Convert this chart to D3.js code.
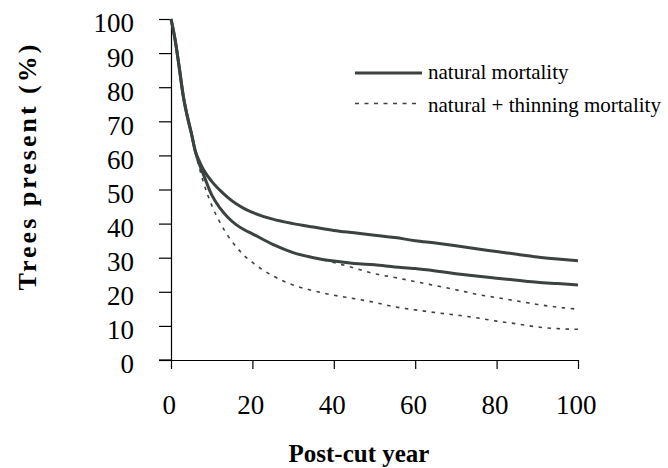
<!DOCTYPE html>
<html>
<head>
<meta charset="utf-8">
<script src="https://cdn.jsdelivr.net/npm/d3@7"></script>
<style>
  html, body { margin: 0; padding: 0; background: #fff; }
  svg { display: block; }
  text { font-family: "Liberation Serif", "Times New Roman", serif; fill: #000; }
</style>
</head>
<body>
<svg id="chart" width="668" height="468"></svg>
<script>
// ---- data ----
const years = [0,1,2,3,4,5,6,7,8,10,12,14,16,18,20,25,30,35,40,45,50,55,60,65,70,75,80,85,90,95,100];
const naturalA  = [100,94,86,77.5,71.5,66.5,61.2,58.2,55.8,52.4,49.8,47.6,45.8,44.4,43.3,41.3,40.0,39.0,38.0,37.3,36.6,35.9,35.0,34.3,33.5,32.6,31.8,31.0,30.2,29.6,29.1];
const naturalB  = [100,94,86,77.5,71.5,66.5,61,57.3,54.3,48.4,44.6,41.8,39.7,38.2,37.0,33.9,31.5,30.0,29.0,28.3,27.9,27.3,26.8,26.1,25.3,24.6,24.0,23.4,22.8,22.4,22.0];
const thinningB = [100,94,86,77.5,71.5,66.5,61,57.3,54.3,48.4,44.6,41.8,39.7,38.2,37.0,33.9,31.5,30.0,28.6,27.0,25.3,24.2,23.0,21.8,20.6,19.3,18.3,17.3,16.3,15.5,14.9];
const thinningA = [100,94,86,77.5,71.5,66.5,60.8,56.2,52.0,45.4,40.4,36.4,33.2,30.6,28.6,24.7,22.0,20.3,19.0,18.0,16.9,15.6,14.7,13.9,13.2,12.4,11.4,10.6,9.7,9.2,9.0];
const xTicks = [0,20,40,60,80,100];
const yTicks = [0,10,20,30,40,50,60,70,80,90,100];
const legendLabels = ["natural mortality", "natural + thinning mortality"];
const xTitle = "Post-cut year";
const yTitle = "Trees present (%)";

// ---- layout ----
const svg = d3.select("#chart");
const lineColor = "#3b4341";
const serif = '"Liberation Serif", "Times New Roman", serif';
const x = d3.scaleLinear().domain([0, 100]).range([171, 578]);
const y = d3.scaleLinear().domain([0, 100]).range([360, 19]);

// axes
const yAxis = d3.axisLeft(y).tickValues(yTicks).tickSize(12).tickSizeOuter(0).tickPadding(25);
const gy = svg.append("g").attr("transform", `translate(${x(0)},0)`).call(yAxis);
gy.attr("font-family", serif);
gy.selectAll("text").attr("font-size", 27).attr("dy", "0.48em").style("font-family", serif);

const xAxis = d3.axisBottom(x).tickValues(xTicks).tickSize(9).tickSizeOuter(0).tickPadding(27);
const gx = svg.append("g").attr("transform", `translate(0,${y(0)})`).call(xAxis);
gx.attr("font-family", serif);
gx.selectAll("text").attr("font-size", 27).attr("dy", "0.68em").attr("dx", "-0.08em").style("font-family", serif);

svg.selectAll(".domain, .tick line").attr("stroke", "#000").attr("stroke-width", 1.2);
// extend x-axis line left to meet y tick length
svg.append("line").attr("x1", x(0) - 12).attr("x2", x(0)).attr("y1", y(0)).attr("y2", y(0))
  .attr("stroke", "#000").attr("stroke-width", 1.2);

// titles
svg.append("text").attr("x", 359).attr("y", 462).attr("text-anchor", "middle")
  .attr("font-size", 25).attr("font-weight", "bold").text(xTitle);
svg.append("text").attr("transform", "translate(36,166) rotate(-90)")
  .attr("text-anchor", "middle").attr("font-size", 26).attr("font-weight", "bold")
  .attr("letter-spacing", "3px").text(yTitle);

// lines
const line = d3.line().x((d, i) => x(years[i])).y(d => y(d)).curve(d3.curveMonotoneX);
const plot = svg.append("g");
[thinningA, thinningB].forEach(s => {
  plot.append("path").attr("d", line(s)).attr("fill", "none")
    .attr("stroke", lineColor).attr("stroke-width", 1.6).attr("stroke-dasharray", "3.5,5.5");
});
[naturalA, naturalB].forEach(s => {
  plot.append("path").attr("d", line(s)).attr("fill", "none")
    .attr("stroke", lineColor).attr("stroke-width", 3);
});

// legend
const lg = svg.append("g");
lg.append("line").attr("x1", 355).attr("x2", 422).attr("y1", 73).attr("y2", 73)
  .attr("stroke", lineColor).attr("stroke-width", 3);
lg.append("line").attr("x1", 355).attr("x2", 420).attr("y1", 103.5).attr("y2", 103.5)
  .attr("stroke", lineColor).attr("stroke-width", 1.6).attr("stroke-dasharray", "4,5.5");
lg.append("text").attr("x", 428).attr("y", 78.5).attr("font-size", 21).text(legendLabels[0]);
lg.append("text").attr("x", 428).attr("y", 111.5).attr("font-size", 21).text(legendLabels[1]);
</script>
</body>
</html>
